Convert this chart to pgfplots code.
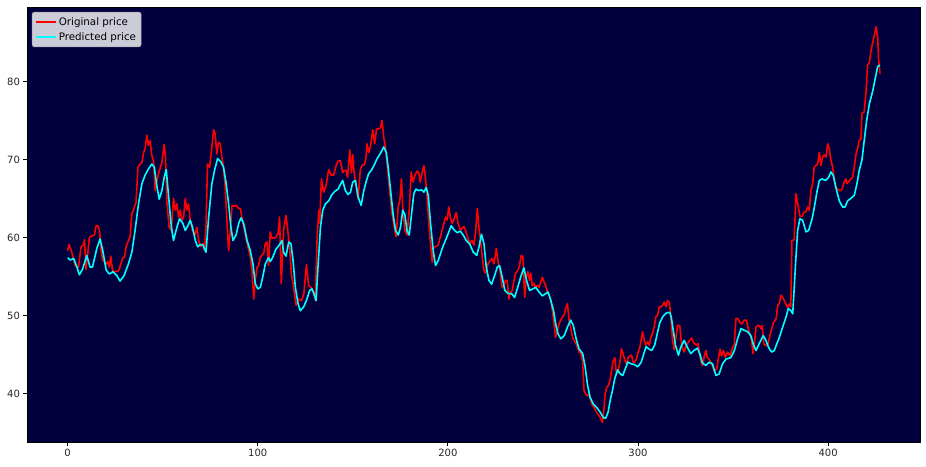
\documentclass[border=0pt]{standalone}
\usepackage{fontspec}
\setmainfont{DejaVu Sans}
\usepackage{pgfplots}
\pgfplotsset{compat=1.18}
\definecolor{navybg}{RGB}{1,0,60}
\definecolor{legbg}{RGB}{204,204,216}
\definecolor{origred}{RGB}{255,0,0}
\definecolor{predcyan}{RGB}{0,255,255}

\begin{document}
\begin{tikzpicture}
\begin{axis}[
  scale only axis, width=893pt, height=435pt,
  xmin=-21.35, xmax=448.35, ymin=33.77, ymax=89.54,
  xtick={0,100,...,400}, ytick={40,50,...,80},
  axis background/.style={fill=navybg},
  axis line style={black, line width=0.8pt},
  tick style={black, line width=0.8pt},
  tick align=outside, major tick length=3.5pt,
  xtick pos=bottom, ytick pos=left,
  /pgf/number format/assume math mode=true,
  tick label style={font=\fontsize{10}{12}\selectfont, text=black!85},
  legend style={at={(0,1)}, xshift=5pt, yshift=-5pt, anchor=north west,
    fill=legbg, draw=legbg!80!black, rounded corners=2pt,
    font=\fontsize{10.3}{12}\selectfont, row sep=2pt, inner sep=3pt},
  legend cell align=left,
  legend image code/.code={\draw[#1] (0pt,0pt) -- (20pt,0pt);},
]
\addplot[origred, line width=1.6pt, line join=round] coordinates {
(0,58.3) (0.8,59.1) (2.2,58.1) (4,56.4) (5.7,56.2) (7.1,58.8) (8.3,59.0) (8.9,59.7) (9.7,55.9) (10.5,57.7) (11.5,60.0) (12.7,60.2) (14.1,60.3) (15,61.5) (15.9,61.5) (16.8,60.9) (17.5,58.6) (18.4,57.1) (19.3,56.9) (20.1,56.5) (21,56.9) (21.9,56.2) (22.7,57.6) (23.6,55.8) (25,55.6) (26.8,55.7) (28,56.6) (29.1,57.4) (30,57.5) (30.8,58.8) (32,59.6) (32.9,60.1) (33.8,63.0) (35,63.8) (36,64.5) (37,69.0) (38.2,69.4) (39.1,69.6) (39.9,70.8) (40.8,71.4) (41.7,73.1) (42.5,71.8) (43.4,72.4) (44.3,70.5) (45.2,69.8) (46.1,66.0) (47,67.3) (48.2,68.5) (49.6,69.6) (50.8,71.9) (51.5,70.3) (52.2,64.7) (53.4,61.3) (54.5,60.9) (55.7,65.0) (56.6,63.5) (57.5,64.3) (58.4,62.6) (59.2,63.5) (60.1,62.2) (61,62.6) (61.9,65.0) (62.7,63.5) (63.6,64.3) (64.5,62.2) (65.7,60.9) (66.9,60.3) (68,61.3) (68.9,59.6) (69.8,58.8) (71.2,59.2) (72,58.3) (72.8,61.3) (73.6,69.4) (74.7,69.0) (75.9,71.6) (76.8,73.8) (77.6,73.3) (78.5,70.7) (79.4,72.2) (80.3,72.0) (81.1,70.3) (82,69.0) (82.9,66.5) (83.8,62.2) (84.7,58.3) (85.6,60.9) (86.5,64.1) (87.4,64.0) (88.8,64.1) (90,63.7) (90.9,63.7) (92.2,61.8) (93.5,60.3) (94.7,59.0) (96.1,57.5) (97,55.8) (97.9,52.1) (98.8,54.7) (99.7,56.2) (100.5,56.4) (101.4,57.5) (103.2,58.0)
(104,59.2) (104.9,59.4) (105.7,56.4) (106.6,60.7) (107.5,59.9) (109.2,59.9) (110.7,60.5) (111.5,62.6) (112.4,54.1) (113.6,60.9) (114.9,62.8) (116,60.5) (116.9,58.4) (117.7,55.3) (118.9,53.6) (120.2,51.3) (121.6,52.1) (123,51.9) (124.3,52.8) (125.6,56.5) (126.8,53.8) (128,53.6) (129.4,53.0) (130.3,51.9) (131.2,59.6) (132.1,63.5) (132.6,61.8) (133.5,67.5) (134.7,65.8) (136,66.7) (137.3,68.7) (138.6,68.0) (140,68.0) (141.2,69.2) (142.3,69.8) (143.5,69.8) (144.7,68.3) (145.6,68.6) (146.5,68.6) (147.3,67.7) (148.4,71.2) (149.3,68.3) (150,70.6) (150.7,68.3) (151.8,66.4) (152.8,64.9) (154,68.8) (155.2,69.3) (156.1,69.3) (157,70.3) (157.5,72.0) (158.4,70.9) (159.3,71.6) (160.5,73.8) (161.5,72.0) (162.5,73.9) (163.7,73.9) (164.6,74.1) (165.4,75.0) (166.3,72.8) (167.2,71.6) (168.4,68.6) (169.4,65.9) (170.7,63.0) (172.1,60.9) (172.8,60.1) (173.9,63.9) (174.8,64.8) (175.6,67.5) (176.3,63.9) (177.4,60.9) (178.5,60.3) (179.7,63.5) (180.7,68.4) (181.7,67.1) (182.6,67.9) (183.8,68.5) (184.7,68.3) (185.5,67.1) (186.4,68.2) (187.4,69.2) (188.2,67.7) (189.1,65.2) (190,61.8) (190.9,59.2) (191.8,56.8) (192.6,58.8) (193.5,58.8) (194.9,59.0) (196.1,60.1) (197.3,61.2) (198.8,62.6) (199.6,62.2) (200.5,63.9) (201.4,62.4) (202.3,61.8) (203.1,62.2) (204.4,63.2) (205.4,61.8) (206.6,60.9) (207.5,61.2) (208.4,61.4) (209.3,60.9) (210.1,60.3) (211.4,59.2)
(212.8,59.6) (213.7,59.0) (214.6,60.7) (215.5,63.7) (216.4,61.1) (217.2,59.6) (218.1,57.5) (219,55.8) (219.9,55.4) (221.1,56.6) (222.5,57.1) (223.4,57.3) (224.3,56.6) (225.5,58.6) (226.6,56.6) (227.4,55.8) (228.6,53.6) (229.4,53.8) (230.3,54.5) (231.2,54.5) (232.1,52.1) (233,53.0) (233.9,53.2) (234.8,54.5) (235.6,55.4) (236.9,55.8) (237.7,56.4) (238.6,57.7) (239.5,57.5) (240.4,52.3) (241.3,54.9) (242.1,55.6) (243,54.5) (243.6,55.4) (244.4,53.8) (245.3,54.1) (246.2,53.6) (247.1,53.8) (248,53.6) (248.9,54.3) (249.7,54.9) (250.6,54.3) (251.5,53.8) (252.4,53.0) (253.3,52.5) (254.2,51.9) (255,50.6) (255.9,48.9) (256.7,47.2) (257.6,48.1) (258.5,48.9) (259.4,49.4) (260.3,49.8) (261.2,50.0) (262,50.9) (262.9,51.5) (263.8,49.4) (264.7,48.3) (265.6,47.2) (266.4,46.8) (267.8,46.2) (269,45.3) (270,45.1) (270.9,44.2) (271.6,40.4) (272.5,39.9) (273.4,39.7) (274.3,39.9) (275.2,39.1) (276,38.5) (276.9,38.2) (277.8,37.8) (278.6,37.4) (279.5,37.2) (280.4,36.8) (281.3,36.3) (282.2,38.2) (282.7,39.9) (283.6,40.8) (284.5,41.0) (285.4,41.8) (286.1,42.9) (287,44.2) (287.8,44.6) (288.7,42.5) (289.6,42.9) (290.5,44.0) (291.3,45.7) (292.2,45.1) (293.1,44.2) (294,43.8) (294.8,44.6) (295.7,44.8) (296.6,44.9) (297.5,44.0) (298.3,44.0) (299.2,44.4) (300.1,45.3) (301,45.9) (301.5,46.6) (302.4,47.9) (303.3,46.8) (304.2,46.2) (305,46.6) (305.9,46.2) (306.8,47.2) (307.7,47.7) (308.5,48.5) (309.4,49.8) (310.3,50.0) (311.2,51.1) (312.1,51.1) (312.9,51.3) (313.8,51.7) (314.7,51.1) (315.6,51.9) (316.5,51.7) (317.3,49.8) (318.2,46.8) (319.1,45.6)
(320.8,48.7) (322,48.7) (323.1,45.9) (324.3,45.3) (325.5,46.2) (326.9,46.7) (328.3,47.1) (329.5,46.4) (330.8,46.2) (331.6,46.4) (333,44.2) (333.9,43.6) (334.7,44.6) (335.8,45.5) (336.5,44.6) (337.3,44.4) (338.2,44.0) (339.1,43.6) (340,42.9) (341.4,43.1) (342.1,44.2) (343.2,45.7) (343.9,44.8) (345,45.5) (345.9,44.6) (347.1,45.3) (348.4,44.8) (349.8,45.9) (350.7,46.3) (351.5,49.6) (352.4,49.6) (353.6,49.1) (354.7,48.9) (355.9,49.4) (357.1,49.4) (358,48.3) (359.1,47.4) (359.8,46.8) (360.5,45.1) (361.2,46.3) (362.1,48.5) (363,48.7) (363.8,48.7) (364.7,48.3) (365.3,48.7) (366.2,46.3) (367.4,46.1) (368.3,46.3) (369.2,47.2) (370.1,48.1) (371.3,49.1) (372.7,49.6) (373.5,51.3) (374.4,51.6) (375.2,52.6) (376.1,52.3) (377,51.9) (377.9,51.4) (378.7,51.0) (379.6,51.5) (380.4,51.1) (381,59.6) (382.2,59.7) (383.1,65.6) (384,64.4) (385.2,62.7) (386.3,62.7) (387.5,63.3) (388.4,63.3) (389.3,63.9) (390.1,63.5) (391,66.0) (391.9,66.9) (392.7,69.0) (393.6,69.2) (394.5,69.4) (395.4,70.9) (396.2,69.2) (397.1,70.3) (398,70.6) (398.9,70.3) (399.8,72.0) (400.6,71.4) (401.5,69.9) (402.4,69.0) (403.3,67.3) (404.1,66.4) (405,66.2) (405.9,66.0) (406.8,66.0) (407.6,66.4) (408.5,67.1) (409.4,67.5) (409.9,66.9) (410.8,67.1) (412,67.5) (412.9,67.7) (413.8,69.0) (414.7,70.7) (415.5,71.4) (416.4,72.4) (417.3,72.6) (417.8,75.9) (419,76.1) (420,78.8) (420.8,82.1) (421.7,82.4) (422.6,84.0) (423.5,85.0) (424.5,86.1) (425.2,87.0) (426.1,85.6) (426.6,82.7) (427.3,81.0)
};
\addlegendentry{Original price}
\addplot[predcyan, line width=1.6pt, line join=round] coordinates {
(0,57.4) (1.4,57.1) (3.2,57.3) (4.9,56.2) (6.2,55.2) (8,56.0) (10.1,57.7) (11.8,56.2) (13.1,56.2) (15.4,58.6) (17.1,59.8) (18.5,58.3) (20.3,55.8) (22,55.3) (23.8,55.6) (25.9,55.1) (27.6,54.4) (29.7,55.1) (32,56.6) (33.8,58.1) (35.5,60.9) (37.3,64.3) (39.1,66.9) (40.8,68.0) (42.6,68.8) (44.3,69.4) (45.6,69.0) (47,66.5) (48.2,64.9) (49.6,66.0) (50.8,67.7) (51.9,68.7) (53.1,65.3) (54.5,61.5) (55.7,59.6) (57.5,61.3) (58.9,62.4) (60.6,61.8) (61.9,60.9) (63.3,61.5) (64.5,62.2) (65.7,61.3) (67.2,59.6) (68.4,58.8) (69.8,59.1) (71.2,59.0) (72.8,58.1) (74.2,62.6) (75.9,66.9) (77.3,68.6) (78.9,70.1) (80.6,69.7) (82,69.0) (83.3,67.1) (84.7,64.3) (85.9,61.3) (87,59.6) (88.6,60.3) (90,61.8) (91.2,62.5) (92.6,61.8) (94.4,59.6) (96.1,58.3) (97.5,56.6) (98.7,54.1) (100,53.4) (101.4,53.6) (102.8,55.1) (104,56.6) (105.7,57.4) (106.6,56.9) (107.8,57.4) (109.6,58.5) (111.3,59.0) (112.8,59.6) (113.6,58.1) (114.9,57.6) (116.3,59.4) (117.5,59.2) (118.6,57.0) (119.8,53.6) (121.2,51.5) (122.4,50.6) (124.2,51.1) (125.9,52.1) (127.3,53.2) (128.6,53.4) (129.8,52.6) (130.7,51.9) (131.7,56.2) (133,61.3) (134.2,63.5) (135.6,64.3) (137.4,64.7) (138.8,65.4) (140.5,65.9) (142.3,66.2) (143.5,66.8) (144.7,67.3) (146.1,66.0) (147.5,65.5) (148.8,65.8) (150,67.1) (151.4,67.3) (152.8,65.2) (154.4,64.1) (155.8,66.0) (157.2,67.3) (158.4,68.2) (159.8,68.6) (161.1,69.2) (162.8,70.1) (164.6,70.8) (166.3,71.6) (167.6,70.9) (168.6,69.0) (169.9,66.0) (171.2,63.0) (172.5,60.9) (173.9,60.3) (175.1,61.3) (176.3,63.5) (177.4,62.9) (178.5,60.9) (179.7,60.3) (180.9,63.0) (182.1,65.6) (183.3,66.2) (184.7,66.0) (186.1,66.1) (187.4,65.8) (188.6,66.4) (189.7,65.4) (190.9,61.8) (192.3,58.3) (193.5,56.4) (194.9,57.0) (196.1,57.9) (197.5,58.9) (199.1,59.8) (200.5,60.7) (201.8,61.5) (203.2,61.0) (204.9,60.6) (206.6,60.8) (208.1,60.3) (209.7,59.6) (211.4,59.2)
(213.4,58.1) (215.2,57.7) (216.4,58.8) (217.7,60.4) (219,59.2) (220.2,56.2) (221.6,54.5) (223,54.0) (224.6,55.1) (226,56.2) (227.2,56.4) (228.6,54.9) (230,53.2) (231.8,52.8) (233.5,52.8) (235.1,52.3) (236.5,53.4) (238.3,54.9) (240,56.1) (241.4,54.5) (243,53.2) (244.7,53.4) (246.2,53.6) (248,53.0) (249.7,52.5) (251.5,52.8) (252.7,53.0) (254.2,51.9) (255.6,50.6) (256.7,48.9) (258,47.6) (259.4,47.0) (261.2,47.4) (262.9,48.5) (264.6,49.4) (266,48.7) (267.5,47.0) (269,45.7) (270.9,45.1) (272.1,43.6) (273.4,41.2) (274.8,39.5) (276.6,38.6) (278.3,38.2) (280.1,37.6) (281.8,36.9) (283,36.8) (284.3,37.6) (285.4,39.1) (286.6,40.4) (287.8,41.9) (289.3,43.0) (290.7,42.5) (292,42.3) (293.4,43.2) (294.6,44.0) (296.4,43.8) (298.1,43.7) (299.9,43.4) (301.7,44.0) (303.1,45.1) (304.3,46.0) (305.7,45.7) (307.3,45.5) (308.8,46.2) (310.2,47.7) (311.4,49.0) (313.2,49.9) (314.9,50.3) (316.7,50.4) (317.5,49.8) (318.8,47.7) (319.7,46.2)
(321.3,44.9) (322.5,45.9) (324.3,46.8) (326,45.9) (327.8,45.1) (329.5,45.5) (331.3,45.8) (332.5,45.1) (333.9,43.9) (335.7,43.6) (337.4,44.0) (339.2,43.8) (341,42.3) (342.7,42.5) (344.5,43.8) (346.3,44.4) (348.9,44.6) (350.7,45.5) (352.4,47.0) (354.2,48.3) (355.9,48.1) (357.7,47.9) (359.4,47.4) (360.8,46.2) (362.1,45.5) (363.8,46.4) (365.9,47.4) (367.3,46.8) (368.7,45.9) (370.3,45.3) (371.7,45.5) (373.1,46.4) (374.4,47.2) (376.1,48.5) (377.9,49.8) (379.1,50.9) (380.5,50.6) (381.4,50.2) (382.2,53.6) (383.1,57.5) (384,60.9) (385.2,62.4) (386.6,62.2) (388.4,60.7) (389.8,60.9) (391.6,62.4) (392.8,63.9) (394.1,65.8) (395.4,67.3) (396.8,67.5) (398.6,67.3) (400.3,67.7) (401.5,68.4) (402.8,67.9) (404.1,66.4) (405.9,64.7) (407.6,63.9) (408.9,63.9) (410.3,64.7) (412,65.0) (413.8,65.4) (415.2,66.9) (416.4,68.6) (417.8,69.9) (419,72.4) (420.3,75.0) (421.7,77.1) (423.5,78.8) (425,80.6) (426.1,81.9) (427.3,82.1)
};
\addlegendentry{Predicted price}
\end{axis}
\path ([shift={(-27pt,-24pt)}]current axis.south west) rectangle ([shift={(6pt,7pt)}]current axis.north east);
\end{tikzpicture}
\end{document}
